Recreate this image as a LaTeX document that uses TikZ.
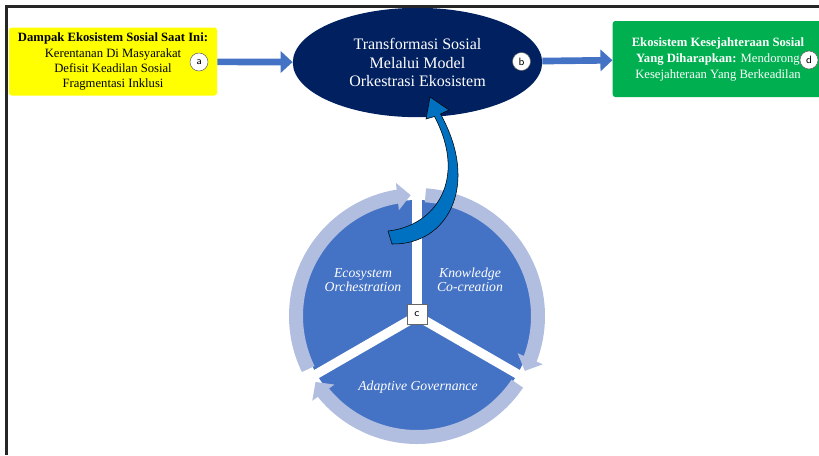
\documentclass[tikz,border=0pt]{standalone}
\usepackage{fontspec}
\setmainfont{Liberation Serif}
\usetikzlibrary{arrows.meta,bending,shapes.geometric}

\newcommand{\cyclearc}[2]% start angle, end angle
{(417,316) ++(#1:121) arc[start angle=#1, end angle=#2, radius=121]
}

\begin{document}
\begin{tikzpicture}[x=0.75pt,y=-0.75pt,
  badge/.style={circle, draw=black!60, fill=white, minimum size=13.5pt, inner sep=0pt, font=\sffamily\footnotesize},
  flow/.style={draw=cycleblue, line width=5pt, -{Triangle[length=9pt,width=16pt]}},
  ringarrow/.style={draw=ringblue, line width=10.5pt, -{Triangle[length=10pt,width=20pt,flex]}},
  gap/.style={draw=white, line width=7pt},
  phase/.style={text=white, align=center, font=\fontsize{10.3}{10.8}\selectfont\itshape}]

\definecolor{impactyellow}{HTML}{FFFF00}
\definecolor{goalgreen}{HTML}{00B050}
\definecolor{navy}{HTML}{002060}
\definecolor{cycleblue}{HTML}{4472C4}
\definecolor{ringblue}{HTML}{B1BEE0}
\definecolor{curveblue}{HTML}{0070C0}

\useasboundingbox (0,0) rectangle (819,455);

% frame
\draw[line width=2.4pt, black!85] (6.5,455) -- (6.5,6.5) -- (819,6.5);

% top row
\node[fill=impactyellow, rounded corners=2pt, minimum width=156pt, minimum height=51pt, align=center,
  font=\fontsize{9.5}{11.3}\selectfont] (impact) at (113,61.5)
  {\textbf{Dampak Ekosistem Sosial Saat Ini:}\\Kerentanan Di Masyarakat\\Defisit Keadilan Sosial\\Fragmentasi Inklusi};
\node[ellipse, fill=navy, text=white, minimum width=187pt, minimum height=82pt, inner sep=0pt, align=center,
  font=\fontsize{12}{14}\selectfont] (transform) at (417.5,62.5)
  {Transformasi Sosial\\Melalui Model\\Orkestrasi Ekosistem};
\node[fill=goalgreen, text=white, rounded corners=2pt, minimum width=158pt, minimum height=57pt, align=center,
  font=\fontsize{9.5}{12}\selectfont] (goal) at (718,59)
  {\textbf{Ekosistem Kesejahteraan Sosial}\\\textbf{Yang Diharapkan:} Mendorong\\Kesejahteraan Yang Berkeadilan};

\draw[flow] (impact) -- (transform);
\draw[flow] (transform) -- (goal);

\node[badge] (badgeA) at (199,62) {a};
\node[badge] (badgeB) at (521.5,61.5) {b};
\node[badge] (badgeD) at (809,60) {d};

% cycle
\fill[cycleblue] (417,316) circle[radius=116];
\draw[ringarrow] \cyclearc{154}{267};
\draw[ringarrow] \cyclearc{274}{387};
\draw[ringarrow] \cyclearc{34}{147};
\draw[gap] (417,316) -- ++(270:140);
\draw[gap] (417,316) -- ++(30:140);
\draw[gap] (417,316) -- ++(150:140);

\node[phase] (orch) at (363,280) {Ecosystem\\Orchestration};
\node[phase] (know) at (470,280) {Knowledge\\Co-creation};
\node[phase] (adapt) at (418,387) {Adaptive Governance};
\node[draw=black!60, fill=white, minimum size=15pt, inner sep=0pt, font=\sffamily\footnotesize] (hub) at (417,314) {c};

% curved arrow back to the model
\filldraw[fill=curveblue, draw=black, line width=0.4pt]
  (388,231) .. controls (435,226) and (468,180) .. (434.5,116.5)
  -- (426,119) -- (430,97) -- (449,110) -- (440.5,114)
  .. controls (480,185) and (448,245) .. (392,244) -- cycle;

\end{tikzpicture}
\end{document}
